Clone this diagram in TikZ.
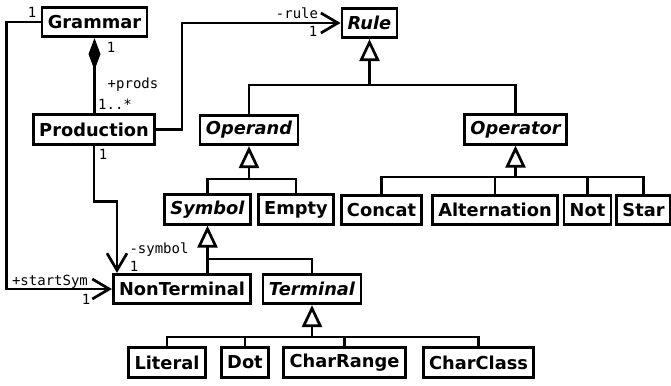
\documentclass[tikz,border=0pt]{standalone}
\usepackage{fontspec}
\setmainfont{DejaVu Sans}
\newfontfamily\umlmono{DejaVu Sans Mono}
\usetikzlibrary{arrows.meta}
\tikzset{ cls/.style = { rectangle % concrete class
        , draw
        , line width = 2.7pt
        , minimum height = 29.5pt
        , inner xsep = 5.8pt
        , inner ysep = 0pt
        , font = \fontsize{17.8}{20}\selectfont\bfseries
        }
        , acls/.style = { cls % abstract class
        , font = \fontsize{17.8}{20}\selectfont\bfseries\itshape
        }
        , lbl/.style = { inner sep = 0pt % role / multiplicity
        , anchor = base
        , font = \umlmono\fontsize{14}{16}\selectfont
        }
        }

\begin{document}
\begin{tikzpicture}[x=1pt, y=-1pt, line width=2.7pt,
        edge_style/.style={draw=black, line width=2.7pt},
        assoc_edge_style/.style={edge_style, -{Straight Barb[length=17pt,width=20pt]}},
        comp_edge_style/.style={edge_style, {Diamond[length=32pt,width=12pt]}-},
        gen_edge_style/.style={edge_style, -{Triangle[open,length=22pt,width=20pt,fill=white]}}]
        \useasboundingbox (0,0) rectangle (671,385);

        \node [cls](grammar) at (94.5,22) {Grammar};
        \node [cls](production) at (94,129.5) {Production};
        \node [acls](rule) at (369.5,23) {Rule};
        \node [acls](operand) at (249,130) {Operand};
        \node [acls](operator) at (515.5,129.5) {Operator};
        \node [acls](symbol) at (207.5,209.5) {Symbol};
        \node [cls](empty) at (296,209.5) {Empty};
        \node [cls](concat) at (381.5,210) {Concat};
        \node [cls](alternation) at (495,210) {Alternation};
        \node [cls](not) at (587.5,210) {Not};
        \node [cls](star) at (643.5,210) {Star};
        \node [cls](nonterminal) at (182,289) {NonTerminal};
        \node [acls](terminal) at (312,289) {Terminal};
        \node [cls](literal) at (167,362.5) {Literal};
        \node [cls](dot) at (245,362.5) {Dot};
        \node [cls](charrange) at (344.5,362.5) {CharRange};
        \node [cls](charclass) at (478.5,362.5) {CharClass};

        % associations
        \draw [comp_edge_style] (grammar.south) -- (grammar.south |- production.north);
        \draw [assoc_edge_style] (production.east) -- ++(26,0) |- (rule.west);
        \draw [assoc_edge_style] (grammar.west) -- ++(-34,0) |- (nonterminal.west);
        \draw [assoc_edge_style] (production.south) -- ++(0,56) -| ([xshift=-65pt]nonterminal.north);

        \node [lbl](grammar_start_m) at (32,18) {1};
        \node [lbl](grammar_prods_m) at (111,53) {1};
        \node [lbl](prods_role) at (133,89) {+prods};
        \node [lbl](prods_m) at (115,110) {1..*};
        \node [lbl](rule_role) at (297,19) {-rule};
        \node [lbl](rule_m) at (313,37) {1};
        \node [lbl](production_symbol_m) at (103,159) {1};
        \node [lbl](symbol_role) at (159,253) {-symbol};
        \node [lbl](symbol_m) at (134,271) {1};
        \node [lbl](start_role) at (50,285) {+startSym};
        \node [lbl](start_m) at (86,304) {1};

        % generalizations
        \coordinate (rule_j) at (369.5,85);
        \draw [gen_edge_style] (rule_j) -- (rule.south);
        \draw [edge_style] (operand.north) |- (rule_j) -| (operator.north);

        \coordinate (operand_j) at (249,179);
        \draw [gen_edge_style] (operand_j) -- (operand.south);
        \draw [edge_style] (symbol.north) |- (operand_j) -| (empty.north);

        \coordinate (operator_j) at (515.5,177);
        \draw [gen_edge_style] (operator_j) -- (operator.south);
        \draw [edge_style] (concat.north) |- (operator_j) -| (star.north);
        \draw [edge_style] (alternation.north) -- (alternation.north |- operator_j);
        \draw [edge_style] (not.north) -- (not.north |- operator_j);

        \coordinate (symbol_j) at (207.5,259);
        \draw [gen_edge_style] (symbol_j) -- (symbol.south);
        \draw [edge_style] (symbol_j |- nonterminal.north) -- (symbol_j) -| (terminal.north);

        \coordinate (terminal_j) at (312,337);
        \draw [gen_edge_style] (terminal_j) -- (terminal.south);
        \draw [edge_style] (literal.north) |- (terminal_j) -| (charclass.north);
        \draw [edge_style] (dot.north) -- (dot.north |- terminal_j);
        \draw [edge_style] (charrange.north) -- (charrange.north |- terminal_j);
\end{tikzpicture}
\end{document}
